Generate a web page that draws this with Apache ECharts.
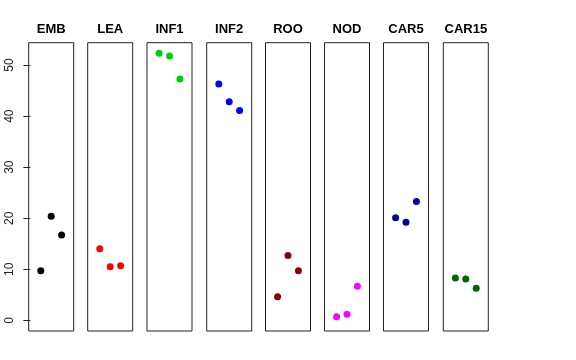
<!DOCTYPE html>
<html><head><meta charset="utf-8">
<script src="https://cdn.jsdelivr.net/npm/echarts@6/dist/echarts.min.js"></script>
<style>html,body{margin:0;padding:0;background:#fff}#c{width:576px;height:360px}</style>
</head><body><div id="c"></div>
<script>
const categories = ["EMB","LEA","INF1","INF2","ROO","NOD","CAR5","CAR15"];
const colors = ["#000000","#FF0000","#00CD00","#0000FF","#8B0000","#FF00FF","#00008B","#006400"];
const EMB = [9.7, 20.4, 16.7];
const LEA = [14.0, 10.5, 10.7];
const INF1 = [52.3, 51.8, 47.3];
const INF2 = [46.3, 42.8, 41.1];
const ROO = [4.6, 12.7, 9.7];
const NOD = [0.7, 1.2, 6.7];
const CAR5 = [20.1, 19.2, 23.3];
const CAR15 = [8.3, 8.1, 6.3];
const yTicks = [0, 10, 20, 30, 40, 50];
const values = [EMB, LEA, INF1, INF2, ROO, NOD, CAR5, CAR15];

const lefts = [28.7, 87.7, 147, 206.7, 265.5, 324.5, 383.5, 443.3];
const gTop = 42.7, gHeight = 288.3, gWidth = 45;
const yMin = -2.09, yMax = 54.39;

const grid = [], xAxis = [], yAxis = [], series = [];
categories.forEach((c, i) => {
  grid.push({left: lefts[i], top: gTop, width: gWidth, height: gHeight, show: true,
    borderColor: '#222', borderWidth: 1, backgroundColor: 'transparent', containLabel: false});
  xAxis.push({type: 'value', gridIndex: i, min: -0.16, max: 4.16, position: 'top',
    axisLine: {show: false}, axisTick: {show: false}, axisLabel: {show: false}, splitLine: {show: false},
    name: c, nameLocation: 'middle', nameGap: 7,
    nameTextStyle: {fontFamily: 'Liberation Sans, Arial, sans-serif', fontWeight: 'bold', fontSize: 13, color: '#000'}});
  yAxis.push({type: 'value', gridIndex: i, min: yMin, max: yMax,
    axisLine: {show: false},
    axisTick: {show: i === 0, length: 7, lineStyle: {color: '#222'}, customValues: yTicks},
    axisLabel: {show: i === 0, rotate: 90, margin: 13, fontSize: 12, color: '#222',
      fontFamily: 'Liberation Sans, Arial, sans-serif', customValues: yTicks},
    splitLine: {show: false}});
  series.push({type: 'scatter', xAxisIndex: i, yAxisIndex: i, symbol: 'circle', symbolSize: 7,
    itemStyle: {color: colors[i], opacity: 1}, silent: true,
    data: values[i].map((v, j) => [j + 1, v])});
});

const chart = echarts.init(document.getElementById('c'), null, {renderer: 'canvas'});
chart.setOption({animation: false, backgroundColor: '#fff', grid, xAxis, yAxis, series});
</script></body></html>
